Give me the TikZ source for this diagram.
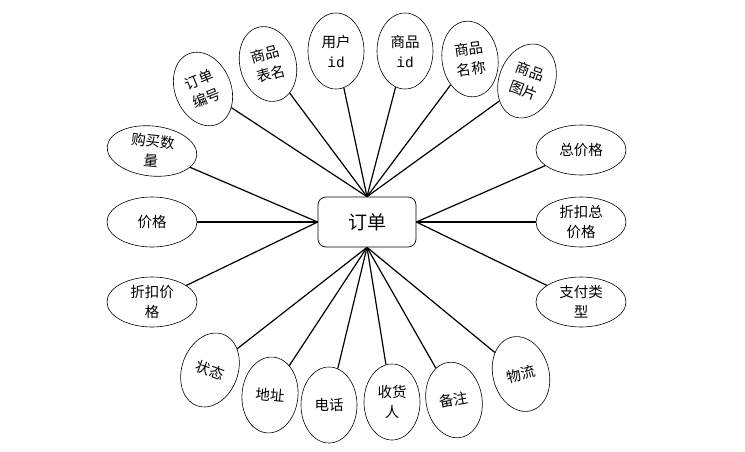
\documentclass[tikz,border=0pt]{standalone}
\usepackage{fontspec}
\newfontfamily\cjk{Noto Sans CJK SC}
\newfontfamily\monoid{Liberation Mono}
\usetikzlibrary{shapes.geometric}
\begin{document}
\begin{tikzpicture}[x=1pt,y=-1pt,
  attr/.style={ellipse,draw,line width=0.6pt,inner sep=0pt,minimum width=56pt,minimum height=76pt,align=center,font=\cjk\fontsize{14.5}{20}\selectfont},
  hattr/.style={attr,minimum width=90pt,minimum height=50pt},
  link/.style={line width=1.2pt},
  center/.style={draw,line width=0.7pt,rounded corners=8pt,minimum width=98pt,minimum height=50pt,font=\cjk\fontsize{19}{22}\selectfont}]
\useasboundingbox (0,0) rectangle (745,451);
\node[center] (c) at (367,222) {订单};
% top
\node[attr,rotate=22] (a1) at (203,89) {订单\\编号};
\node[attr,rotate=15] (a2) at (268,64) {商品\\表名};
\node[attr] (a3) at (336,51) {用户\\{\monoid id}};
\node[attr] (a4) at (405,51) {商品\\{\monoid id}};
\node[attr,rotate=8] (a5) at (470,59) {商品\\名称};
\node[attr,rotate=-20] (a6) at (527,81) {商品\\图片};
% left
\node[hattr,rotate=-6] (l1) at (152,151) {购买数\\量};
\node[hattr] (l2) at (152,222) {价格};
\node[hattr] (l3) at (152,302) {折扣价\\格};
% right
\node[hattr] (r1) at (581,150) {总价格};
\node[hattr] (r2) at (581,222) {折扣总\\价格};
\node[hattr] (r3) at (581,302) {支付类\\型};
% bottom
\node[attr,rotate=-20] (b1) at (210,370) {状态};
\node[attr,rotate=-5] (b2) at (270,395) {地址};
\node[attr] (b3) at (329,405) {电话};
\node[attr] (b4) at (392,402) {收货\\人};
\node[attr,rotate=10] (b5) at (454,400) {备注};
\node[attr,rotate=15] (b6) at (521,374) {物流};
% connectors
\foreach \n in {a1,a2,a3,a4,a5,a6} \draw[link] (\n) -- (c.north);
\foreach \n in {l1,l2,l3} \draw[link] (\n) -- (c.west);
\foreach \n in {r1,r2,r3} \draw[link] (\n) -- (c.east);
\foreach \n in {b1,b2,b3,b4,b5,b6} \draw[link] (\n) -- (c.south);
\end{tikzpicture}
\end{document}
